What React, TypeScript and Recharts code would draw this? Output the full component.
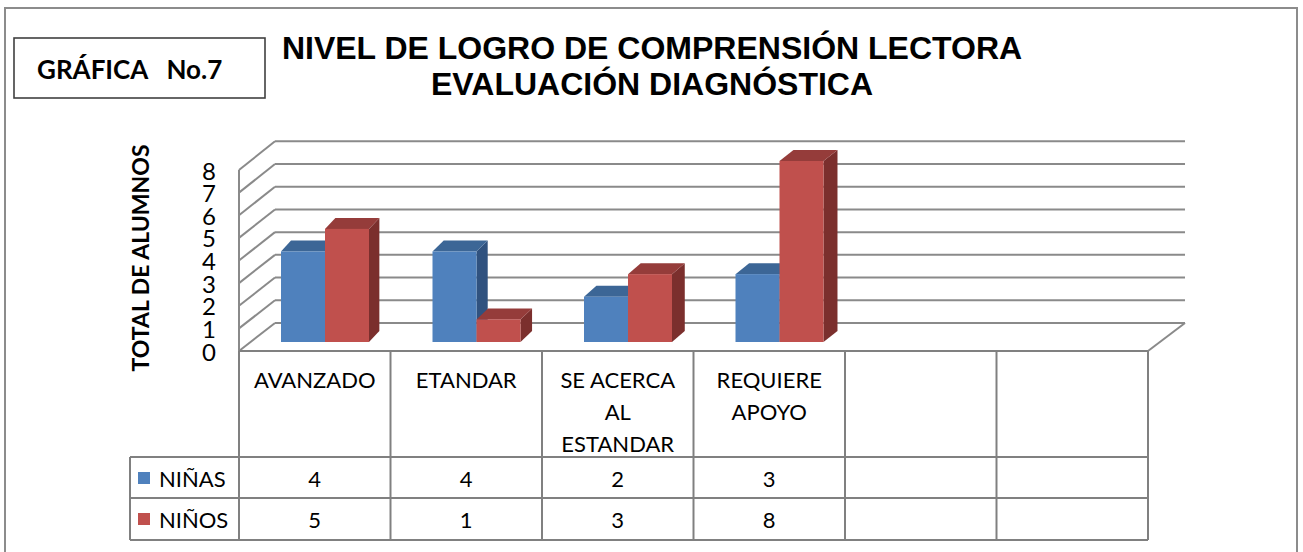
import React from "react";
import { BarChart, Bar, XAxis, YAxis, CartesianGrid } from "recharts";

// ---------- data ----------
const categoryLines: string[][] = [
  ["AVANZADO"],
  ["ETANDAR"],
  ["SE ACERCA", "AL", "ESTANDAR"],
  ["REQUIERE", "APOYO"],
  [],
  [],
];
const ninas: (number | null)[] = [4, 4, 2, 3, null, null];
const ninos: (number | null)[] = [5, 1, 3, 8, null, null];
const yTicks = [0, 1, 2, 3, 4, 5, 6, 7, 8];
const seriesNames = ["NIÑAS", "NIÑOS"];
const titleLines = ["NIVEL DE LOGRO DE COMPRENSIÓN LECTORA", "EVALUACIÓN DIAGNÓSTICA"];
const boxLabel = "GRÁFICA   No.7";
const yTitle = "TOTAL DE ALUMNOS";

const data = categoryLines.map((_, i) => ({ cat: "c" + i, ninas: ninas[i], ninos: ninos[i] }));

// ---------- layout ----------
const W = 1303;
const H = 552;
const PLOT_LEFT = 249;
const PLOT_RIGHT = 1158;
const PLOT_TOP = 161;
const PLOT_BOTTOM = 342;
const Y_AXIS_W = 60;
const X_AXIS_H = 200;
const NCAT = categoryLines.length;
const BAND = (PLOT_RIGHT - PLOT_LEFT) / NCAT;

const FRONT_DX = -10; // front edge of floor / walls relative to bar plane
const BACK_DX = 26;
const frontY = (y: number) => y + 9;
const backY = (y: number) => 323 - (PLOT_BOTTOM - y) * 1.004;

const ROW_TOP = 351;
const ROW1 = 457;
const ROW2 = 498;
const ROW3 = 540;
const LEGEND_LEFT = 130;

const GRID = "#8a8a8a";
const TABLE = "#808080";
const FONT = "Lato, 'Noto Sans', sans-serif";

const BLUE = { front: "#4f81bd", top: "#3c6696", side: "#30527f" };
const RED = { front: "#c0504d", top: "#953c3a", side: "#7b2f2d" };

const make3D = (col: { front: string; top: string; side: string }) => (p: any) => {
  const { x, y, width, height, value } = p;
  if (value === null || value === undefined || !height) return <g />;
  const dx = 10 + ((x + width - 325) / 500) * 4;
  const dy = 11;
  const r = x + width;
  const b = y + height;
  return (
    <g>
      <polygon
        points={`${r},${y} ${r + dx},${y - dy} ${r + dx},${b - dy} ${r},${b}`}
        fill={col.side}
      />
      <polygon
        points={`${x},${y} ${x + dx},${y - dy} ${r + dx},${y - dy} ${r},${y}`}
        fill={col.top}
      />
      <rect x={x} y={y} width={width} height={height} fill={col.front} />
    </g>
  );
};

const gridLine = (p: any) => {
  const y = p.y1;
  const fx = p.x1 + FRONT_DX;
  const bx = p.x1 + BACK_DX;
  const ex = p.x2 + 27;
  const fy = frontY(y);
  const by = backY(y);
  const isTop = Math.abs(y - PLOT_TOP) < 1;
  const isBottom = Math.abs(y - PLOT_BOTTOM) < 1;
  return (
    <g key={p.key}>
      <line x1={fx} y1={fy} x2={bx} y2={by} stroke={GRID} strokeWidth={2} />
      <line x1={bx} y1={by} x2={ex} y2={by} stroke={GRID} strokeWidth={2} />
      {isTop && (
        <line x1={fx} y1={fy} x2={fx} y2={frontY(PLOT_BOTTOM)} stroke={GRID} strokeWidth={2} />
      )}
      {isBottom && (
        <line x1={p.x2 + FRONT_DX} y1={fy} x2={ex} y2={by} stroke={GRID} strokeWidth={2} />
      )}
    </g>
  );
};

const YTick = (p: any) => (
  <text
    x={209}
    y={frontY(p.y)}
    textAnchor="middle"
    dominantBaseline="central"
    fontFamily={FONT}
    fontSize={24}
    fill="#000"
  >
    {p.payload.value}
  </text>
);

const XTick = (p: any) => {
  const i = p.index;
  const cx = p.x + FRONT_DX;
  const left = cx - BAND / 2;
  const right = cx + BAND / 2;
  const lines = categoryLines[i] || [];
  const a = ninas[i];
  const b = ninos[i];
  return (
    <g>
      {lines.map((t, k) => (
        <text
          key={k}
          x={cx}
          y={379 + k * 32}
          textAnchor="middle"
          dominantBaseline="central"
          fontFamily={FONT}
          fontSize={22}
          fill="#000"
        >
          {t}
        </text>
      ))}
      <line x1={left} y1={ROW_TOP} x2={left} y2={ROW3} stroke={TABLE} strokeWidth={2} />
      {i === NCAT - 1 && (
        <line x1={right} y1={ROW_TOP} x2={right} y2={ROW3} stroke={TABLE} strokeWidth={2} />
      )}
      <text x={cx} y={478} textAnchor="middle" dominantBaseline="central" fontFamily={FONT} fontSize={22} fill="#000">
        {a === null ? "" : a}
      </text>
      <text x={cx} y={519} textAnchor="middle" dominantBaseline="central" fontFamily={FONT} fontSize={22} fill="#000">
        {b === null ? "" : b}
      </text>
      {i === 0 && (
        <g>
          <line x1={left} y1={ROW_TOP} x2={PLOT_RIGHT + FRONT_DX} y2={ROW_TOP} stroke={TABLE} strokeWidth={2} />
          {[ROW1, ROW2, ROW3].map((ry) => (
            <line key={ry} x1={LEGEND_LEFT} y1={ry} x2={PLOT_RIGHT + FRONT_DX} y2={ry} stroke={TABLE} strokeWidth={2} />
          ))}
          <line x1={LEGEND_LEFT} y1={ROW1} x2={LEGEND_LEFT} y2={ROW3} stroke={TABLE} strokeWidth={2} />
          <rect x={138} y={472} width={12} height={12} fill={BLUE.front} />
          <text x={159} y={478} dominantBaseline="central" fontFamily={FONT} fontSize={22} fill="#000">
            {seriesNames[0]}
          </text>
          <rect x={138} y={513} width={12} height={12} fill={RED.front} />
          <text x={159} y={519} dominantBaseline="central" fontFamily={FONT} fontSize={22} fill="#000">
            {seriesNames[1]}
          </text>
        </g>
      )}
    </g>
  );
};

export default function App() {
  return (
    <div style={{ position: "absolute", left: 0, top: 0, width: W, height: H, background: "#fff", overflow: "hidden" }}>
      <div style={{ position: "absolute", left: 0, top: 0 }}>
        <BarChart
          width={W}
          height={H}
          data={data}
          margin={{ top: PLOT_TOP, right: W - PLOT_RIGHT, bottom: H - PLOT_BOTTOM - X_AXIS_H, left: PLOT_LEFT - Y_AXIS_W }}
          barGap={0}
          barSize={44}
        >
          <CartesianGrid vertical={false} horizontal={gridLine} />
          <XAxis
            dataKey="cat"
            axisLine={false}
            tickLine={false}
            interval={0}
            height={X_AXIS_H}
            tick={XTick}
          />
          <YAxis
            domain={[0, 8]}
            ticks={yTicks}
            axisLine={false}
            tickLine={false}
            width={Y_AXIS_W}
            tick={YTick}
            interval={0}
          />
          <Bar dataKey="ninas" name={seriesNames[0]} isAnimationActive={false} shape={make3D(BLUE)} />
          <Bar dataKey="ninos" name={seriesNames[1]} isAnimationActive={false} shape={make3D(RED)} />
        </BarChart>
      </div>
      <svg width={W} height={H} style={{ position: "absolute", left: 0, top: 0, pointerEvents: "none" }}>
        <rect x={5} y={8} width={1292} height={600} fill="none" stroke="#8c8c8c" strokeWidth={2} />
        <rect x={14} y={38} width={251} height={60} fill="none" stroke="#404040" strokeWidth={1.6} />
        <text x={37} y={69} dominantBaseline="central" fontFamily={FONT} fontWeight="bold" fontSize={26} fill="#000" style={{ whiteSpace: "pre" }}>
          {boxLabel}
        </text>
        <text x={652} y={48} textAnchor="middle" dominantBaseline="central" fontFamily="'Liberation Sans', Arial, sans-serif" fontWeight="bold" fontSize={32} fill="#000">
          {titleLines[0]}
        </text>
        <text x={652} y={84} textAnchor="middle" dominantBaseline="central" fontFamily="'Liberation Sans', Arial, sans-serif" fontWeight="bold" fontSize={32} fill="#000">
          {titleLines[1]}
        </text>
        <text
          x={140}
          y={258}
          textAnchor="middle"
          dominantBaseline="central"
          fontFamily={FONT}
          fontWeight="bold"
          fontSize={23}
          fill="#000"
          transform="rotate(-90 140 258)"
        >
          {yTitle}
        </text>
      </svg>
    </div>
  );
}
